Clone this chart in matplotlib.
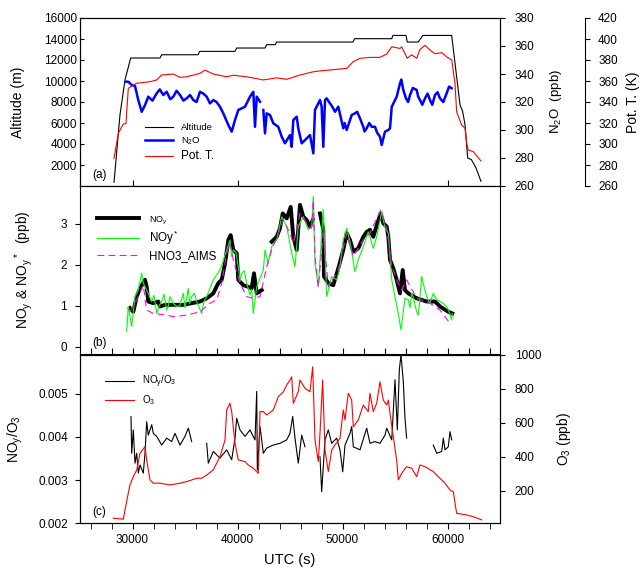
import numpy as np
import matplotlib
matplotlib.use('Agg')
import matplotlib.pyplot as plt

plt.rcParams['font.family'] = ['Liberation Sans', 'DejaVu Sans']
plt.rcParams['mathtext.default'] = 'regular'

nan = np.nan

# ---- panel (a): altitude, N2O, potential temperature
alt_t = [28240, 28810, 29290, 29830, 32620, 32780, 36240, 36400, 39760, 39920,
         42620, 42780, 43600, 43730, 51000, 51150, 54690, 54800, 56050, 56170,
         57220, 57640, 60400, 60810, 61190, 61440, 61670, 61920, 62280, 62714, 63190]
alt_m = [348, 6793, 10125, 12190, 12190, 12500, 12500, 12820, 12820, 13140,
         13140, 13460, 13460, 13710, 13710, 14030, 14030, 14340, 14340, 13710,
         13710, 14340, 14340, 10915, 7745, 7107, 5840, 2670, 2510, 1718, 443]

n2o_t = [29381, 29600, 29924, 30238, 30552, 30876, 31190, 31505, 31900, 32305,
         32600, 32933, 33257, 33600, 33886, 34200, 34524, 34850, 35162, 35480,
         35790, 36100, 36429, 36750, 37067, 37380, 37695, 38000, 38333, 38648,
         39124, 39448, 39762, 40076, 40714, 41190, 41505, 41667, 41830, 42143,
         42300, 42460, 42619, 42781, 43095, 43410, 43886, 44210, 44524, 45000,
         45162, 45314, 45638, 45790, 46114, 46429, 46905, 47222, 47381, 47695,
         47857, 48016, 48171, 48333, 48495, 48810, 49000, 49286, 49600, 50076,
         50200, 50400, 50876, 51190, 51400, 51667, 51981, 52100, 52305, 52550,
         52781, 53095, 53300, 53571, 53733, 54048, 54362, 54524, 54690, 55162,
         55300, 55476, 55600, 55790, 56048, 56250, 56429, 56700, 57067, 57200,
         57381, 57600, 57857, 58100, 58333, 58550, 58810, 59050, 59286, 59600,
         59920, 60150, 60400]
n2o_ppb = [334.5, 334.5, 332.1, 331.4, 321.4, 313.0, 317.8, 323.8, 321.0, 326.2,
           329.0, 325.0, 327.3, 322.0, 323.8, 328.0, 325.0, 321.0, 322.6, 325.0,
           321.4, 320.0, 327.3, 326.0, 323.8, 319.0, 321.4, 320.0, 316.6, 311.9,
           303.6, 298.8, 307.1, 314.3, 316.6, 323.8, 327.3, 302.3, 323.8, 320.2,
           nan, 314.3, 297.6, 311.9, 310.7, 304.8, 302.3, 295.2, 290.5, 296.4,
           288.0, 307.1, 309.5, 301.2, 290.5, 292.8, 296.4, 283.3, 314.3, 319.0,
           321.4, 316.6, 288.0, 321.4, 322.6, 319.0, 317.0, 313.0, 316.6, 301.2,
           305.0, 300.0, 310.7, 311.9, 313.0, 308.3, 302.3, 299.0, 301.2, 305.0,
           302.3, 302.3, 298.0, 295.2, 289.3, 298.8, 300.0, 301.2, 316.6, 323.8,
           328.0, 333.3, 336.0, 328.6, 322.6, 320.0, 325.0, 330.0, 328.6, 324.0,
           321.4, 318.0, 322.6, 326.0, 321.4, 318.0, 325.0, 327.0, 322.6, 320.0,
           326.2, 331.0, 329.8]

pt_t = [28238, 28650, 29124, 29381, 29600, 29924, 30400, 31667, 32305, 32781,
        33886, 34524, 35162, 36429, 36905, 37695, 38971, 39600, 40876, 42460,
        43730, 44686, 45952, 47222, 47857, 50400, 51030, 51667, 52620, 53571,
        54210, 54690, 55476, 55635, 56170, 56590, 57067, 57380, 57857, 58333,
        58810, 59450, 59920, 60400, 60714, 60870, 61350, 61667, 61830, 61980,
        62460, 63190]
pt_k = [286.4, 310.0, 319.0, 319.5, 353.0, 355.0, 357.8, 359.3, 361.0, 365.7,
        366.6, 363.5, 364.0, 367.3, 370.4, 366.6, 364.0, 365.5, 364.0, 361.0,
        363.0, 361.6, 365.7, 368.8, 369.6, 372.0, 378.4, 381.6, 382.5, 382.5,
        385.7, 392.6, 391.0, 392.6, 381.6, 385.0, 381.6, 390.0, 394.0, 389.5,
        386.0, 387.0, 383.0, 380.0, 357.8, 330.7, 318.0, 315.0, 300.6, 294.3,
        292.7, 283.8]

# ---- panel (b): NOy, NOy*, HNO3
noy_t = [29762, 30076, 30400, 30714, 31190, 31350, 31505, 31981, 32457, 32619,
         33095, 33886, 34838, 35638, 36429, 37067, 37695, 38171, 38495, 38810,
         39124, 39352, 39600, 39924, 40076, 40552, 41028, 41350, 41571, 41830,
         42305, 42800, 43257, 43733, 44048, 44305, 44686, 45067, 45314, 45638,
         45952, 46267, 46590, 46905, 47160, 47500, 47857, 48171, 48238, 48648,
         49124, 49600, 50076, 50400, 50714, 51030, 51505, 51981, 52305, 52619,
         52933, 53314, 53638, 53886, 54210, 54362, 54524, 54838, 55162, 55476,
         55733, 55952, 56267, 57067, 58019, 58810, 59286, 60076, 60457]
noy_ppb = [0.94, 0.85, 1.22, 1.42, 1.63, 1.46, 1.10, 1.06, 1.10, 0.98,
           1.02, 1.02, 1.02, 1.06, 1.10, 1.18, 1.30, 1.55, 1.63, 2.03,
           2.60, 2.72, 2.36, 2.28, 1.63, 1.50, 1.46, 1.42, 1.79, 1.30,
           1.38, nan, 2.56, 2.68, 2.89, 3.25, 3.13, 3.41, 2.68, 2.36,
           3.46, 3.17, 3.09, 2.93, 3.09, nan, 3.25, 2.85, 1.71, 1.55,
           1.50, 1.91, 2.36, 2.77, 2.60, 2.32, 2.40, 2.68, 2.80, 2.85,
           2.68, 3.01, 3.25, 3.01, 2.93, 2.68, 2.12, 1.91, 1.63, 1.30,
           1.87, 1.38, 1.30, 1.18, 1.10, 1.10, 0.98, 0.85, 0.81]

noys_t = [29448, 29600, 29924, 30238, 30552, 30876, 31028, 31350, 31829, 32050,
          32305, 32550, 32781, 33000, 33257, 33400, 33571, 33900, 34210, 34500,
          34838, 35000, 35314, 35450, 35638, 35900, 36114, 36350, 36590, 36800,
          37067, 37695, 38333, 38650, 38971, 39286, 39450, 39600, 39850, 40076,
          40250, 40400, 40650, 40876, 41190, 41350, 41505, 41830, 42460, 42619,
          42933, 43257, 43733, 44210, 44686, 45162, 45476, 45790, 46267, 46743,
          47067, 47222, 47381, 47695, 48171, 48495, 48971, 49448, 49762, 50076,
          50400, 50714, 51190, 51505, 51981, 52457, 52933, 53257, 53733, 54048,
          54362, 54690, 55000, 55314, 55571, 55952, 56267, 56430, 56590, 56750,
          56905, 57060, 57219, 57380, 57540, 57780, 58019, 58300, 58648, 58950,
          59286, 59600, 59924, 60150, 60400, 60457]
noys_ppb = [0.37, 0.98, 0.49, 1.22, 1.38, 1.79, 1.55, 1.38, 1.10, 1.25,
            0.81, 1.00, 1.10, 1.28, 0.89, 1.00, 1.22, 1.05, 0.98, 1.00,
            1.30, 0.95, 1.42, 1.05, 1.22, 1.30, 1.10, 0.95, 0.81, 1.10,
            1.22, 1.63, 1.87, 2.10, 2.36, 2.60, 2.20, 2.36, 2.30, 1.95,
            1.60, 1.79, 1.85, 1.55, 1.26, 1.40, 0.81, 1.46, 1.87, 2.36,
            2.03, 2.44, 2.60, 3.17, 2.93, 2.28, 1.95, 2.93, 3.17, 2.85,
            2.93, 3.66, 2.03, 1.46, 3.35, 1.22, 1.71, 1.63, 1.95, 2.60,
            2.89, 2.56, 1.83, 2.12, 2.44, 2.80, 2.40, 2.68, 3.29, 2.89,
            2.77, 1.63, 1.22, 0.81, 0.41, 1.18, 1.14, 0.95, 1.30, 1.20,
            1.02, 0.85, 0.77, 1.20, 1.71, 1.45, 1.22, 1.05, 1.30, 1.15,
            1.10, 1.05, 0.98, 0.85, 0.65, 0.81]

hno3_t = [29762, 30400, 31028, 31350, 31981, 33257, 33886, 35162, 36429, 37381,
          38019, 38495, 38971, 39286, 39600, 40238, 40876, 41505, 42143, 42781,
          43257, 44371, 45000, 45314, 45952, 46590, 47067, 47222, 47381, 47695,
          48171, 48648, 49600, 50400, 51030, 51981, 52619, 53638, 54210, 54690,
          55314, 55635, 56107, 57067, 58333, 59286, 60238]
hno3_ppb = [0.85, 1.14, 1.50, 0.89, 0.81, 0.77, 0.73, 0.77, 0.85, 1.06,
            1.14, 1.55, 2.28, 2.52, 2.12, 1.55, 1.22, 1.18, 1.22, 1.95,
            2.36, 3.09, 2.77, 2.52, 3.25, 3.01, 2.89, 3.58, 2.20, 1.46,
            2.77, 1.46, 1.87, 2.77, 2.20, 2.60, 2.77, 3.33, 2.89, 1.95,
            1.55, 1.38, 1.63, 1.18, 1.06, 0.89, 0.57]

# ---- panel (c): NOy/O3 ratio and O3
rat_t = [29857, 29924, 30076, 30238, 30400, 30552, 30714, 31028, 31190, 31350,
         31505, 31829, 31981, 32305, 32781, 33257, 33733, 34048, 34524, 35000,
         35314, 35638, 36300, 37067, 37219, 37695, 38333, 38971, 39448, 39762,
         39924, 40238, 40714, 41190, 41667, 41830, 41889, 42143, 42460, 42781,
         43410, 44048, 44686, 45000, 45257, 45476, 45790, 46114, 46429, 47100,
         47857, 48016, 48333, 48648, 48971, 49448, 49762, 50019, 50238, 50714,
         50876, 51030, 51667, 52305, 52619, 53095, 53571, 54048, 54210, 54690,
         55000, 55222, 55413, 55571, 55790, 55952, 56107, 57400, 58648, 58971,
         59448, 59600, 59762, 60076, 60238, 60400]
rat_val = [0.00447, 0.00362, 0.00416, 0.00339, 0.00362, 0.00316, 0.00335, 0.00316, 0.00362, 0.00435,
           0.00404, 0.00428, 0.00408, 0.00401, 0.00381, 0.00397, 0.00389, 0.00408, 0.00381, 0.00401,
           0.00420, 0.00389, nan, 0.00385, 0.00339, 0.00366, 0.00351, 0.00370, 0.00347, 0.00397,
           0.00443, 0.00416, 0.00401, 0.00416, 0.00393, 0.00505, 0.00323, 0.00424, 0.00362, 0.00374,
           0.00381, 0.00385, 0.00393, 0.00408, 0.00447, 0.00397, 0.00339, 0.00404, 0.00377, nan,
           0.00354, 0.00273, 0.00393, 0.00416, 0.00385, 0.00397, 0.00370, 0.00319, 0.00381, 0.00408,
           0.00424, 0.00377, 0.00370, 0.00420, 0.00385, 0.00389, 0.00385, 0.00404, 0.00420, 0.00393,
           0.00532, 0.00416, 0.00555, 0.00590, 0.00528, 0.00443, 0.00397, nan, 0.00381, 0.00362,
           0.00366, 0.00397, 0.00370, 0.00377, 0.00412, 0.00393]

o3_t = [28171, 29124, 29286, 29600, 29762, 30076, 30400, 30714, 31190, 31350,
        31667, 31981, 32619, 33571, 34524, 35162, 36114, 36590, 37067, 37695,
        38333, 38810, 38971, 39286, 39448, 39600, 39762, 40076, 40714, 41028,
        41505, 41981, 42143, 42460, 42781, 43410, 43886, 44371, 44686, 45000,
        45162, 45314, 45790, 45952, 46429, 46905, 47160, 47381, 47695, 47857,
        48111, 48333, 48648, 48971, 49286, 49762, 50076, 50238, 50552, 50876,
        51030, 51505, 51981, 52457, 52619, 52933, 53257, 53571, 53886, 54210,
        54362, 54524, 54838, 55162, 55314, 55635, 56107, 56590, 57067, 57381,
        57857, 58648, 59124, 59762, 60238, 60552, 60870, 61830, 62457, 63257]
o3_ppb = [38, 32, 87, 185, 234, 282, 322, 420, 459, 381,
          263, 244, 244, 234, 244, 253, 273, 273, 292, 322,
          400, 498, 675, 714, 665, 576, 479, 381, 371, 351,
          332, 302, 665, 665, 645, 675, 753, 782, 822, 851,
          870, 714, 782, 851, 802, 782, 929, 498, 371, 538,
          851, 439, 312, 439, 469, 508, 675, 616, 773, 733,
          576, 616, 704, 665, 773, 665, 714, 841, 733, 704,
          733, 655, 518, 381, 263, 302, 341, 332, 282, 351,
          341, 312, 282, 244, 204, 194, 67, 57, 47, 28]

xlim = (25000, 65000)
L, W = 80 / 641, 420 / 641

fig = plt.figure(figsize=(6.41, 5.72), dpi=100)
ax_a = fig.add_axes([L, 1 - 186 / 572, W, 168 / 572])
ax_b = fig.add_axes([L, 1 - 354 / 572, W, 168 / 572])
ax_c = fig.add_axes([L, 1 - 523.3 / 572, W, 168.6 / 572])

tick_fs = 8.5
lab_fs = 10

# ---------------- (a)
ax_n2o = ax_a.twinx()
ax_pt = ax_a.twinx()
ax_pt.spines['right'].set_position(('axes', 1.202))
for s in ['top', 'bottom', 'left']:
    ax_pt.spines[s].set_visible(False)

h_alt, = ax_a.plot(alt_t, alt_m, color='black', lw=0.8)
h_n2o, = ax_n2o.plot(n2o_t, n2o_ppb, color='#0000ff', lw=1.8)
h_pt, = ax_pt.plot(pt_t, pt_k, color='#ff0000', lw=0.8)

ax_a.set_xlim(xlim)
ax_a.set_ylim(0, 16000)
ax_a.set_yticks(range(2000, 16001, 2000))
ax_a.set_xticks([30000, 40000, 50000, 60000])
ax_a.tick_params(axis='x', direction='in', length=4, labelbottom=False)
ax_a.tick_params(axis='y', direction='in', length=3, pad=2, labelsize=tick_fs)
ax_a.set_ylabel('Altitude (m)', fontsize=lab_fs, labelpad=14)

ax_n2o.set_ylim(260, 380)
ax_n2o.set_yticks(range(260, 381, 20))
ax_n2o.tick_params(axis='y', direction='out', length=3.5, pad=7, labelsize=tick_fs)
ax_n2o.set_ylabel('N$_2$O  (ppb)', fontsize=lab_fs - 0.5, labelpad=10)

ax_pt.set_ylim(260, 420)
ax_pt.set_yticks(range(260, 421, 20))
ax_pt.tick_params(axis='y', direction='out', length=3.5, pad=6, labelsize=tick_fs)
ax_pt.set_ylabel('Pot. T. (K)', fontsize=lab_fs, labelpad=6)

leg = ax_a.legend([h_alt, h_n2o, h_pt], ['Altitude', 'N$_2$O', 'Pot. T.'],
                  loc='lower left', bbox_to_anchor=(0.145, 0.12), frameon=False,
                  fontsize=6.8, handlelength=3.0, handletextpad=0.8,
                  labelspacing=0.35, borderaxespad=0)
leg.get_texts()[2].set_fontsize(8.5)
ax_a.text(0.03, 0.05, '(a)', transform=ax_a.transAxes, fontsize=8.5)

# ---------------- (b)
h_noy, = ax_b.plot(noy_t, noy_ppb, color='black', lw=2.8)
h_noys, = ax_b.plot(noys_t, noys_ppb, color='#00ff00', lw=0.8)
h_hno3, = ax_b.plot(hno3_t, hno3_ppb, color='#ff00ff', lw=0.8, ls=(0, (6, 4)))
ax_b.set_xlim(xlim)
ax_b.set_ylim(-0.18, 3.92)
ax_b.set_yticks([0, 1, 2, 3])
ax_b.set_xticks(range(26000, 65000, 2000))
ax_b.tick_params(axis='x', direction='in', length=4, labelbottom=False)
ax_b.tick_params(axis='y', direction='out', length=3.5, pad=6, labelsize=tick_fs)
ax_b.set_ylabel('NO$_y$ & NO$_y$$^*$  (ppb)', fontsize=lab_fs, labelpad=18)
leg = ax_b.legend([h_noy, h_noys, h_hno3], ['NO$_y$', 'NOy$^*$', 'HNO3_AIMS'],
                  loc='upper left', bbox_to_anchor=(0.03, 0.86), frameon=False,
                  fontsize=8.4, handlelength=3.6, handletextpad=0.8,
                  labelspacing=0.2, borderaxespad=0)
leg.get_texts()[0].set_fontsize(6.5)
ax_b.text(0.03, 0.05, '(b)', transform=ax_b.transAxes, fontsize=8.5)

# ---------------- (c)
ax_o3 = ax_c.twinx()
h_rat, = ax_c.plot(rat_t, rat_val, color='black', lw=0.8)
h_o3, = ax_o3.plot(o3_t, o3_ppb, color='#ff0000', lw=0.8)
ax_c.set_xlim(xlim)
ax_c.set_ylim(0.002, 0.0059)
ax_c.set_yticks([0.002, 0.003, 0.004, 0.005])
ax_c.set_yticklabels(['0.002', '0.003', '0.004', '0.005'])
ax_c.set_xticks([30000, 40000, 50000, 60000])
ax_c.set_xticks(range(26000, 65000, 2000), minor=True)
ax_c.tick_params(axis='x', which='both', direction='out', length=4, pad=4,
                 labelsize=tick_fs)
ax_c.tick_params(axis='y', direction='out', length=3.5, pad=5, labelsize=tick_fs)
ax_c.set_ylabel('NO$_y$/O$_3$', fontsize=lab_fs, labelpad=10)
ax_c.set_xlabel('UTC (s)', fontsize=lab_fs + 0.5, labelpad=5)

ax_o3.set_ylim(8, 1000)
ax_o3.set_yticks([200, 400, 600, 800, 1000])
ax_o3.tick_params(axis='y', direction='out', length=3.5, pad=7, labelsize=tick_fs)
ax_o3.set_ylabel('O$_3$ (ppb)', fontsize=lab_fs, labelpad=10)

ax_c.legend([h_rat, h_o3], ['NO$_y$/O$_3$', 'O$_3$'], loc='upper left',
            bbox_to_anchor=(0.05, 0.91), frameon=False, fontsize=7,
            handlelength=3.0, handletextpad=0.8, labelspacing=0.3, borderaxespad=0)
ax_c.text(0.03, 0.05, '(c)', transform=ax_c.transAxes, fontsize=8.5)

fig.savefig('out.png', dpi=100)
